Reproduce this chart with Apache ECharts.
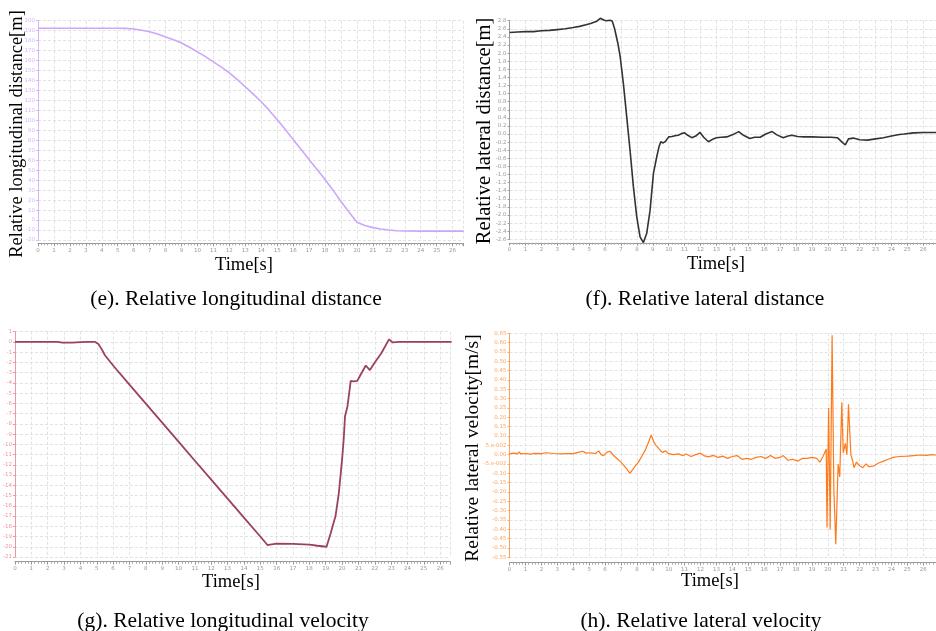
<!DOCTYPE html>
<html>
<head>
<meta charset="utf-8">
<script src="https://cdn.jsdelivr.net/npm/echarts@6/dist/echarts.min.js"></script>
<style>
html, body { margin: 0; padding: 0; background: #fff; }
#main { width: 936px; height: 631px; }
</style>
</head>
<body>
<div id="main"></div>
<script>
// (e) relative longitudinal distance [m]
const eTime = [0, 1, 2, 3, 4, 5, 5.5, 6, 6.5, 7, 7.5, 8, 8.5, 9, 9.5, 10, 10.5, 11, 11.5, 12, 12.5, 13, 13.5, 14, 14.5, 15, 15.5, 16, 16.5, 17, 17.5, 18, 18.5, 19, 19.5, 20, 20.5, 21, 21.5, 22, 22.5, 23, 24, 25, 26, 26.7]
const eDist = [192.5, 192.5, 192.5, 192.5, 192.5, 192.5, 192.3, 191.6, 190.5, 189, 186.6, 183.7, 180.8, 177.7, 173.4, 168.7, 164, 158.7, 153.4, 147.7, 141, 133.7, 126.3, 118.7, 110, 100.7, 91, 80.7, 70.7, 60.7, 50.7, 40.7, 30, 18.7, 8, -2.3, -5.5, -7.6, -9, -10, -10.7, -11, -11.1, -11.1, -11.1, -11.1]

// (f) relative lateral distance [m]
const fTime = [0, 0.5, 1, 1.5, 2, 2.5, 3, 3.5, 4, 4.4, 4.8, 5.1, 5.3, 5.45, 5.55, 5.7, 5.8, 5.95, 6.1, 6.3, 6.45, 6.6, 6.8, 6.95, 7.15, 7.36, 7.57, 7.78, 7.99, 8.2, 8.41, 8.62, 8.83, 9.04, 9.25, 9.4, 9.5, 9.65, 9.8, 9.9, 10, 10.2, 10.4, 10.6, 10.8, 11, 11.2, 11.45, 11.7, 11.97, 12.2, 12.5, 12.8, 13, 13.3, 13.65, 14, 14.4, 14.7, 15.1, 15.4, 15.75, 16.1, 16.5, 16.8, 17.2, 17.5, 17.74, 18.1, 18.5, 19, 19.7, 20.2, 20.6, 20.9, 21.1, 21.3, 21.6, 22, 22.5, 23, 23.5, 24, 24.5, 24.8, 25.4, 26, 26.8]
const fDist = [2.51, 2.52, 2.53, 2.53, 2.55, 2.56, 2.58, 2.6, 2.63, 2.66, 2.7, 2.73, 2.76, 2.78, 2.74, 2.86, 2.87, 2.81, 2.8, 2.81, 2.79, 2.6, 2.25, 1.91, 1.25, 0.43, -0.4, -1.3, -2.04, -2.54, -2.68, -2.45, -1.88, -0.97, -0.56, -0.3, -0.19, -0.22, -0.18, -0.2, -0.07, -0.06, -0.04, -0.03, 0.01, 0.03, -0.03, -0.09, -0.05, 0.04, -0.08, -0.19, -0.12, -0.09, -0.08, -0.07, -0.02, 0.06, -0.03, -0.11, -0.08, -0.08, 0, 0.06, -0.02, -0.09, -0.05, -0.03, -0.06, -0.07, -0.07, -0.08, -0.08, -0.09, -0.2, -0.27, -0.12, -0.1, -0.14, -0.15, -0.12, -0.09, -0.05, -0.01, 0, 0.03, 0.04, 0.04]

// (g) relative longitudinal velocity [m/s]
const gTime = [0, 1, 2, 2.6, 2.9, 3.5, 4, 4.5, 4.9, 5.1, 5.3, 5.5, 6, 7, 8, 9, 10, 11, 12, 13, 14, 15, 15.45, 15.6, 16, 17, 18, 18.5, 19.05, 19.3, 19.6, 19.8, 20, 20.1, 20.18, 20.33, 20.45, 20.53, 20.7, 20.93, 21.1, 21.45, 21.7, 22, 22.4, 22.87, 23.1, 23.5, 24, 25, 26, 26.7]
const gVel = [0, 0, 0, 0, -0.06, -0.07, -0.02, 0, 0, -0.2, -0.7, -1.3, -2.3, -4.17, -6.03, -7.88, -9.74, -11.6, -13.45, -15.3, -17.16, -19, -19.85, -19.8, -19.7, -19.72, -19.8, -19.9, -20, -18.7, -17, -14.8, -11.5, -9.5, -7.25, -6.3, -4.8, -3.8, -3.85, -3.8, -3.3, -2.3, -2.75, -2, -1.1, 0.25, -0.05, 0, 0, 0, 0, 0]

// (h) relative lateral velocity [m/s]
const hTime = [0, 0.3, 0.5, 0.6, 0.7, 1, 1.3, 1.6, 2, 2.3, 2.4, 2.8, 3.2, 3.6, 4, 4.3, 4.4, 4.6, 4.8, 5, 5.1, 5.2, 5.4, 5.6, 5.75, 5.9, 6.1, 6.3, 6.4, 6.6, 6.8, 7, 7.2, 7.4, 7.55, 7.7, 7.9, 8.1, 8.3, 8.5, 8.7, 8.9, 9.05, 9.2, 9.45, 9.6, 9.8, 10, 10.3, 10.6, 10.9, 11.1, 11.4, 11.7, 12, 12.2, 12.5, 12.8, 13.1, 13.4, 13.7, 14, 14.3, 14.6, 14.9, 15.2, 15.5, 15.8, 16.1, 16.4, 16.7, 17, 17.2, 17.5, 17.8, 18.1, 18.4, 18.7, 19, 19.3, 19.5, 19.7, 19.8, 19.9, 19.95, 20.05, 20.15, 20.27, 20.38, 20.5, 20.65, 20.75, 20.88, 20.97, 21.1, 21.2, 21.3, 21.45, 21.55, 21.65, 21.8, 22, 22.2, 22.4, 22.6, 22.9, 23.2, 23.5, 23.8, 24.1, 24.5, 25, 25.4, 25.8, 26.2, 26.5, 26.8]
const hVel = [0.005, 0.008, 0.004, 0.015, 0.004, 0.006, 0.003, 0.007, 0.005, 0.01, 0.002, 0.006, 0.004, 0.006, 0.005, 0.012, 0.02, 0.018, 0.008, 0.01, 0.02, 0.008, 0.006, 0.02, 0, -0.005, 0.012, 0.018, 0.01, -0.01, -0.025, -0.04, -0.06, -0.08, -0.1, -0.085, -0.06, -0.04, -0.01, 0.02, 0.06, 0.105, 0.07, 0.05, 0.025, 0.012, 0.02, 0.005, 0, 0.004, -0.005, 0.003, -0.01, 0, 0.008, -0.005, -0.012, -0.004, -0.015, -0.008, -0.02, -0.01, -0.005, -0.025, -0.02, -0.025, -0.015, -0.01, -0.02, -0.005, -0.02, -0.015, -0.005, -0.03, -0.025, -0.035, -0.02, -0.02, -0.015, -0.02, -0.04, -0.01, 0.01, 0.03, -0.39, 0.25, -0.4, 0.64, -0.19, -0.48, -0.05, -0.12, 0.28, 0.01, 0.06, 0, 0.27, 0, -0.03, -0.07, -0.04, -0.06, -0.07, -0.05, -0.065, -0.06, -0.045, -0.035, -0.025, -0.015, -0.01, -0.008, -0.005, -0.002, -0.004, 0, -0.002]

const pairs = (xs, ys) => xs.map((x, i) => [x, ys[i]])

const serif = 'Liberation Serif'
const gridLine = { show: true, lineStyle: { color: '#e2e2e2', type: [3, 2], width: 1 } }

// time axis, shared look for all four panels
function timeAxis (gridIndex, max, offset) {
  return {
    type: 'value',
    gridIndex: gridIndex,
    min: 0,
    max: max,
    interval: 1,
    offset: offset,
    axisLine: { onZero: false, lineStyle: { color: '#999', width: 1 } },
    axisTick: { show: true, length: 3, lineStyle: { color: '#999' } },
    minorTick: { show: true, splitNumber: 5, length: 2, lineStyle: { color: '#aaa' } },
    axisLabel: { fontSize: 5.5, color: '#999', margin: 4, showMaxLabel: false, fontFamily: 'DejaVu Sans' },
    splitLine: gridLine
  }
}

function valueAxis (gridIndex, min, max, step, color, fmt) {
  return {
    type: 'value',
    gridIndex: gridIndex,
    min: min,
    max: max,
    interval: step,
    axisLine: { show: true, onZero: false, lineStyle: { color: color, width: 1 } },
    axisTick: { show: true, length: 2, lineStyle: { color: color } },
    axisLabel: { fontSize: 5.5, color: color, margin: 3, fontFamily: 'DejaVu Sans', formatter: fmt },
    splitLine: gridLine
  }
}

function txt (x, y, text, size, rot) {
  return {
    type: 'text',
    x: x,
    y: y,
    rotation: rot || 0,
    style: { text: text, font: size + 'px "' + serif + '"', fill: '#000', align: 'center', verticalAlign: 'middle' }
  }
}

const chart = echarts.init(document.getElementById('main'))
chart.setOption({
  animation: false,
  grid: [
    { left: 38, top: 20.7, width: 425.3, height: 219.3 },
    { left: 509.6, top: 20.7, width: 426.4, height: 218.6 },
    { left: 13.3, top: 331.7, width: 436.7, height: 225.3 },
    { left: 509.6, top: 333.3, width: 426.4, height: 224 }
  ],
  xAxis: [
    timeAxis(0, 26.67, 3.3),
    timeAxis(1, 26.8, 3.5),
    timeAxis(2, 26.6, 4.7),
    timeAxis(3, 26.8, 5.3)
  ],
  yAxis: [
    valueAxis(0, -20, 200, 10, '#d7b6fb', v => String(v)),
    valueAxis(1, -2.6, 2.8, 0.2, '#9a9a9a', v => v.toFixed(1)),
    valueAxis(2, -21, 1, 1, '#ee95a8', v => String(v)),
    valueAxis(3, -0.55, 0.65, 0.05, '#ffa45e', v => {
      const r = Math.round(v * 100) / 100
      if (r === 0.05) return '5.e-002'
      if (r === -0.05) return '-5.e-002'
      return r.toFixed(2)
    })
  ],
  series: [
    { type: 'line', xAxisIndex: 0, yAxisIndex: 0, data: pairs(eTime, eDist), showSymbol: false, clip: false, lineStyle: { color: '#cba6fb', width: 1.6 } },
    { type: 'line', xAxisIndex: 1, yAxisIndex: 1, data: pairs(fTime, fDist), showSymbol: false, clip: false, lineStyle: { color: '#333', width: 1.6 } },
    { type: 'line', xAxisIndex: 2, yAxisIndex: 2, data: pairs(gTime, gVel), showSymbol: false, clip: false, lineStyle: { color: '#9c4060', width: 1.8 } },
    { type: 'line', xAxisIndex: 3, yAxisIndex: 3, data: pairs(hTime, hVel), showSymbol: false, clip: false, lineStyle: { color: '#ff7a1a', width: 1.2 } }
  ],
  graphic: [
    txt(17, 134, 'Relative longitudinal distance[m]', 18.5, Math.PI / 2),
    txt(485, 131, 'Relative lateral distance[m]', 20.5, Math.PI / 2),
    txt(473, 448, 'Relative lateral velocity[m/s]', 19.5, Math.PI / 2),
    txt(244, 265, 'Time[s]', 18.5),
    txt(716, 264, 'Time[s]', 18.5),
    txt(231, 582, 'Time[s]', 18.5),
    txt(710, 581, 'Time[s]', 18.5),
    txt(236, 299, '(e). Relative longitudinal distance', 21.5),
    txt(705, 299, '(f). Relative lateral distance', 21.5),
    txt(223, 621, '(g). Relative longitudinal velocity', 21.5),
    txt(701, 621, '(h). Relative lateral velocity', 21.5)
  ]
})
</script>
</body>
</html>
